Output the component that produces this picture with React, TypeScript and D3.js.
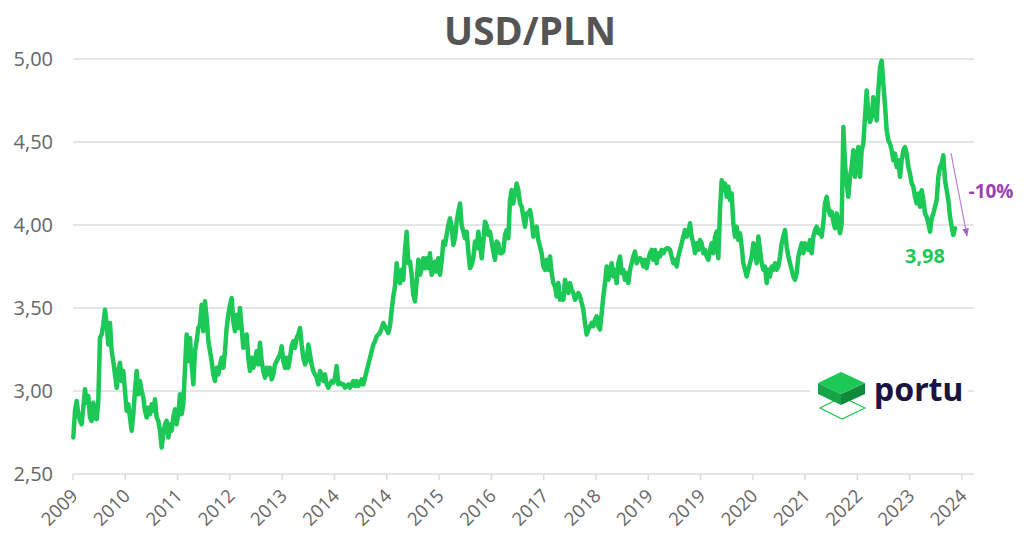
import React from "react";
import * as d3 from "d3";

// USD/PLN, sampled on a regular grid (about every 7 trading days)
const sampleStart = 2009.945; // decimal year of the first sample
const sampleStepYears = 0.02656;
const values: number[] = [
  2.72, 2.88, 2.94, 2.86, 2.82, 2.80, 2.90, 3.01, 2.93, 2.97, 2.84, 2.82, 2.93, 2.84, 2.83, 2.94, 3.32, 3.34, 3.40, 3.49,
  3.40, 3.28, 3.41, 3.24, 3.18, 3.10, 3.02, 3.12, 3.17, 3.06, 3.12, 3.00, 2.88, 2.92, 2.84, 2.76, 2.86, 3.00, 3.12, 2.98,
  3.06, 3.00, 2.96, 2.88, 2.84, 2.90, 2.86, 2.92, 2.88, 2.95, 2.84, 2.82, 2.76, 2.66, 2.74, 2.80, 2.82, 2.72, 2.80, 2.76,
  2.84, 2.89, 2.80, 2.86, 2.98, 2.86, 2.92, 3.14, 3.34, 3.18, 3.32, 3.16, 3.04, 3.24, 3.30, 3.38, 3.40, 3.52, 3.36, 3.54,
  3.44, 3.30, 3.24, 3.18, 3.10, 3.06, 3.14, 3.10, 3.16, 3.20, 3.14, 3.24, 3.38, 3.46, 3.52, 3.56, 3.42, 3.36, 3.46, 3.38,
  3.50, 3.38, 3.26, 3.32, 3.34, 3.20, 3.12, 3.20, 3.14, 3.18, 3.24, 3.16, 3.29, 3.18, 3.12, 3.08, 3.14, 3.10, 3.14, 3.07,
  3.10, 3.16, 3.18, 3.20, 3.22, 3.27, 3.18, 3.14, 3.20, 3.14, 3.20, 3.27, 3.30, 3.26, 3.32, 3.34, 3.38, 3.28, 3.20, 3.16,
  3.18, 3.28, 3.22, 3.16, 3.12, 3.10, 3.08, 3.04, 3.12, 3.10, 3.06, 3.10, 3.04, 3.02, 3.04, 3.06, 3.05, 3.08, 3.15, 3.04,
  3.05, 3.04, 3.04, 3.02, 3.03, 3.04, 3.02, 3.04, 3.06, 3.03, 3.06, 3.03, 3.04, 3.07, 3.04, 3.08, 3.12, 3.16, 3.20, 3.24,
  3.28, 3.30, 3.33, 3.34, 3.35, 3.38, 3.41, 3.39, 3.37, 3.35, 3.39, 3.49, 3.57, 3.63, 3.77, 3.69, 3.65, 3.73, 3.67, 3.85,
  3.96, 3.77, 3.78, 3.70, 3.58, 3.54, 3.66, 3.79, 3.70, 3.74, 3.80, 3.74, 3.80, 3.74, 3.83, 3.70, 3.73, 3.78, 3.72, 3.80,
  3.70, 3.78, 3.90, 3.88, 3.94, 4.00, 4.04, 3.99, 3.88, 3.92, 4.02, 4.08, 4.13, 4.00, 3.96, 3.92, 3.96, 3.84, 3.74, 3.76,
  3.80, 3.90, 3.86, 3.96, 3.88, 3.80, 3.90, 4.02, 4.00, 3.94, 3.96, 3.90, 3.84, 3.79, 3.90, 3.89, 3.83, 3.83, 3.84, 3.94,
  3.97, 3.92, 4.15, 4.21, 4.13, 4.19, 4.25, 4.21, 4.13, 4.11, 4.05, 3.99, 4.07, 4.07, 4.09, 4.03, 3.93, 3.97, 3.99, 3.91,
  3.87, 3.83, 3.75, 3.73, 3.79, 3.73, 3.81, 3.71, 3.65, 3.63, 3.57, 3.65, 3.55, 3.57, 3.55, 3.67, 3.63, 3.59, 3.65, 3.61,
  3.59, 3.55, 3.57, 3.59, 3.57, 3.53, 3.49, 3.41, 3.34, 3.37, 3.39, 3.41, 3.39, 3.43, 3.45, 3.39, 3.37, 3.47, 3.57, 3.65,
  3.75, 3.67, 3.73, 3.77, 3.69, 3.73, 3.65, 3.77, 3.81, 3.71, 3.73, 3.67, 3.71, 3.65, 3.73, 3.77, 3.81, 3.84, 3.77, 3.79,
  3.80, 3.79, 3.75, 3.79, 3.74, 3.79, 3.83, 3.85, 3.79, 3.85, 3.77, 3.83, 3.81, 3.85, 3.83, 3.85, 3.86, 3.86, 3.85, 3.81,
  3.77, 3.79, 3.75, 3.81, 3.85, 3.89, 3.93, 3.97, 3.93, 3.95, 4.01, 3.93, 3.89, 3.83, 3.89, 3.85, 3.91, 3.89, 3.83, 3.85,
  3.81, 3.79, 3.85, 3.89, 3.83, 3.93, 3.96, 3.80, 4.09, 4.27, 4.21, 4.25, 4.17, 4.23, 4.15, 4.19, 4.01, 3.93, 3.99, 3.91,
  3.95, 3.87, 3.77, 3.73, 3.69, 3.73, 3.77, 3.81, 3.89, 3.85, 3.77, 3.93, 3.85, 3.77, 3.73, 3.75, 3.65, 3.73, 3.69, 3.75,
  3.73, 3.77, 3.73, 3.75, 3.81, 3.89, 3.93, 3.97, 3.87, 3.81, 3.77, 3.73, 3.69, 3.67, 3.71, 3.81, 3.85, 3.89, 3.83, 3.89,
  3.87, 3.85, 3.91, 3.83, 3.93, 3.97, 3.99, 3.95, 3.97, 3.93, 4.01, 4.13, 4.17, 4.10, 4.06, 4.08, 4.02, 3.98, 4.07, 4.02,
  3.95, 4.01, 4.59, 4.37, 4.25, 4.17, 4.29, 4.35, 4.45, 4.29, 4.41, 4.47, 4.29, 4.45, 4.49, 4.65, 4.81, 4.67, 4.62, 4.65,
  4.77, 4.69, 4.63, 4.81, 4.95, 4.99, 4.85, 4.72, 4.57, 4.51, 4.49, 4.45, 4.39, 4.43, 4.35, 4.39, 4.29, 4.39, 4.45, 4.47,
  4.43, 4.35, 4.31, 4.25, 4.23, 4.17, 4.13, 4.19, 4.11, 4.21, 4.15, 4.07, 4.05, 4.01, 3.96, 4.04, 4.07, 4.11, 4.15, 4.29,
  4.35, 4.37, 4.42, 4.27, 4.21, 4.15, 4.05, 3.99, 3.94, 3.98,
];
const dates: number[] = values.map((_, i) => sampleStart + i * sampleStepYears);

const tickLabels: string[] = [
  "2009", "2010", "2011", "2012", "2013", "2014", "2014", "2015", "2016",
  "2017", "2018", "2019", "2019", "2020", "2021", "2022", "2023", "2024",
];
const tickStart = 2009.94; // first category tick (decimal year)
const tickStepMonths = 10;
const yTicks: number[] = [2.5, 3.0, 3.5, 4.0, 4.5, 5.0];
const title = "USD/PLN";
const changeLabel = "-10%";

const W = 1024;
const H = 553;
const FONT = "'Open Sans', 'DejaVu Sans', sans-serif";
const GREEN = "#1cc856";
const PURPLE = "#9b3fb5";

export default function App() {
  const tickDates = tickLabels.map((_, i) => tickStart + (i * tickStepMonths) / 12);
  const x = d3
    .scaleLinear()
    .domain([tickDates[0], tickDates[tickDates.length - 1]])
    .range([73, 962]);
  const y = d3.scaleLinear().domain([2.5, 5.0]).range([474, 59]);
  const pts = dates.map((d, i) => [d, values[i]] as [number, number]);
  const line = d3
    .line<[number, number]>()
    .x((d) => x(d[0]))
    .y((d) => y(d[1]));
  const fmt = (v: number) => v.toFixed(2).replace(".", ",");
  const last = pts[pts.length - 1];
  const lx = x(last[0]);
  const ly = y(last[1]);
  const gridRight = 974;

  return (
    <svg
      width={W}
      height={H}
      style={{ position: "absolute", left: 0, top: 0, background: "#fff" }}
      fontFamily={FONT}
    >
      <defs>
        <marker id="ah" viewBox="0 0 10 10" refX="9" refY="5" markerWidth="7" markerHeight="7" orient="auto">
          <path d="M0,1 L10,5 L0,9 z" fill="#a565c4" />
        </marker>
      </defs>
      <text x={530} y={45} textAnchor="middle" fontSize={38.5} fontWeight={700} fill="#555">
        {title}
      </text>
      {yTicks.map((t) => (
        <g key={t}>
          <line x1={73} x2={gridRight} y1={y(t)} y2={y(t)} stroke="#dcdcdc" strokeWidth={1.5} />
          <text x={53} y={y(t) + 7} textAnchor="end" fontSize={20} fill="#666">
            {fmt(t)}
          </text>
        </g>
      ))}
      {tickDates.map((d, i) => (
        <g key={i}>
          <line x1={x(d)} x2={x(d)} y1={474} y2={480} stroke="#dcdcdc" strokeWidth={1.5} />
          <text
            transform={`translate(${x(d) + 6},${497}) rotate(-45)`}
            textAnchor="end"
            fontSize={18.5}
            fill="#666"
          >
            {tickLabels[i]}
          </text>
        </g>
      ))}
      {/* logo */}
      <g>
        <rect x={810} y={368} width={158} height={52} fill="#fff" />
        <path d="M820,408 L842,397 L865,408 L842,419 Z" fill="none" stroke={GREEN} strokeWidth={1.2} />
        <path d="M818,383 L841,394 L841,405 L818,394 Z" fill="#15a447" />
        <path d="M841,394 L865,383 L865,394 L841,405 Z" fill="#0f8a3a" />
        <path d="M841,372 L865,383 L841,394 L818,383 Z" fill={GREEN} />
        <text x={874} y={401} fontSize={32} fontWeight={700} fill="#1b1340" fontFamily="'Noto Sans', 'Open Sans', sans-serif">
          portu
        </text>
      </g>
      <path
        d={line(pts) || ""}
        fill="none"
        stroke={GREEN}
        strokeWidth={4.5}
        strokeLinejoin="round"
        strokeLinecap="round"
      />
      <text x={lx - 30} y={ly + 35} textAnchor="middle" fontSize={20} fontWeight={700} fill={GREEN}>
        {fmt(last[1])}
      </text>
      <line x1={951} y1={153} x2={967} y2={236} stroke="#b57fd0" strokeWidth={1.2} markerEnd="url(#ah)" />
      <text x={991} y={198} textAnchor="middle" fontSize={19} fontWeight={700} fill={PURPLE}>
        {changeLabel}
      </text>
    </svg>
  );
}
